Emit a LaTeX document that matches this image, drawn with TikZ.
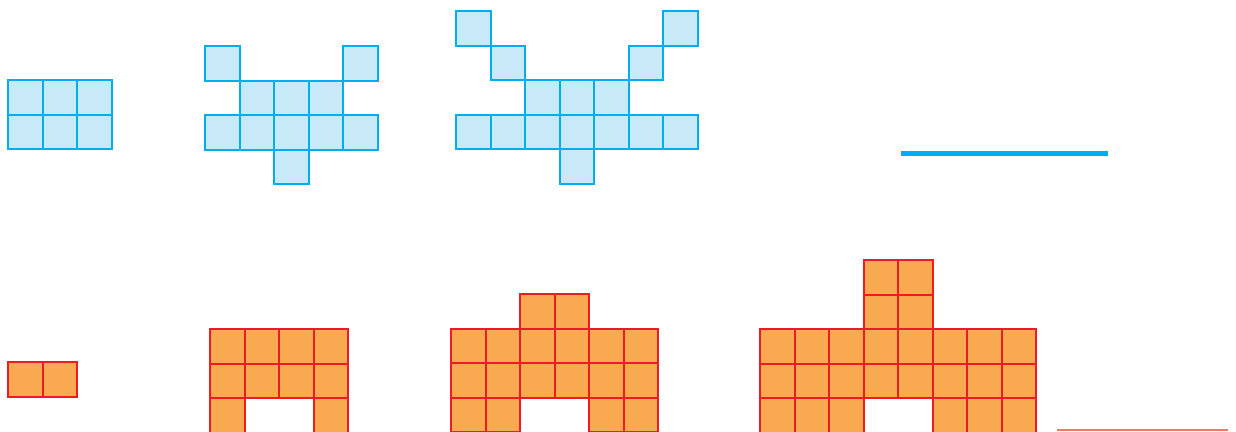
\documentclass[tikz,border=0pt]{standalone}
\definecolor{bluestroke}{HTML}{00AEEF}
\definecolor{bluefill}{HTML}{C8E9F8}
\definecolor{orfill}{HTML}{F9AA51}
\definecolor{orstroke}{HTML}{ED1C24}
\definecolor{salmon}{HTML}{F47B5E}
\tikzset{
  bluesq/.style={draw=bluestroke,fill=bluefill,line width=2pt},
  orsq/.style={draw=orstroke,fill=orfill,line width=2pt},
}
\newcommand{\cellsz}{34.55}
\begin{document}
\begin{tikzpicture}[x=1pt,y=-1pt]
\useasboundingbox (0,0) rectangle (1236,431);
\clip (0,0) rectangle (1236,431);
% blue figure 1
\foreach \c/\r in {0/0,1/0,2/0,0/1,1/1,2/1}
  \draw[bluesq] ({8+\c*\cellsz},{80+\r*\cellsz}) rectangle ++(\cellsz,\cellsz);
% blue figure 2
\foreach \c/\r in {0/0,4/0,1/1,2/1,3/1,0/2,1/2,2/2,3/2,4/2,2/3}
  \draw[bluesq] ({205+\c*\cellsz},{46+\r*\cellsz}) rectangle ++(\cellsz,\cellsz);
% blue figure 3
\foreach \c/\r in {0/0,6/0,1/1,5/1,2/2,3/2,4/2,0/3,1/3,2/3,3/3,4/3,5/3,6/3,3/4}
  \draw[bluesq] ({456+\c*\cellsz},{11+\r*\cellsz}) rectangle ++(\cellsz,\cellsz);
% blue line
\coordinate (bl1) at (901,153.5);
\coordinate (bl2) at (1108,153.5);
\draw[bluestroke,line width=5pt] (bl1) -- (bl2);
% orange figure 1
\foreach \c/\r in {0/0,1/0}
  \draw[orsq] ({8+\c*\cellsz},{362+\r*\cellsz}) rectangle ++(\cellsz,\cellsz);
% orange figure 2
\foreach \c/\r in {0/0,1/0,2/0,3/0,0/1,1/1,2/1,3/1,0/2,3/2}
  \draw[orsq] ({210+\c*\cellsz},{329+\r*\cellsz}) rectangle ++(\cellsz,\cellsz);
% orange figure 3
\foreach \c/\r in {2/0,3/0,0/1,1/1,2/1,3/1,4/1,5/1,0/2,1/2,2/2,3/2,4/2,5/2,0/3,1/3,4/3,5/3}
  \draw[orsq] ({451+\c*\cellsz},{294+\r*\cellsz}) rectangle ++(\cellsz,\cellsz);
% orange figure 4
\foreach \c/\r in {3/0,4/0,3/1,4/1,0/2,1/2,2/2,3/2,4/2,5/2,6/2,7/2,0/3,1/3,2/3,3/3,4/3,5/3,6/3,7/3,0/4,1/4,2/4,5/4,6/4,7/4}
  \draw[orsq] ({760+\c*\cellsz},{260+\r*\cellsz}) rectangle ++(\cellsz,\cellsz);
% orange line
\coordinate (ol1) at (1057,430);
\coordinate (ol2) at (1228,430);
\draw[salmon,line width=1.5pt] (ol1) -- (ol2);
\end{tikzpicture}
\end{document}
